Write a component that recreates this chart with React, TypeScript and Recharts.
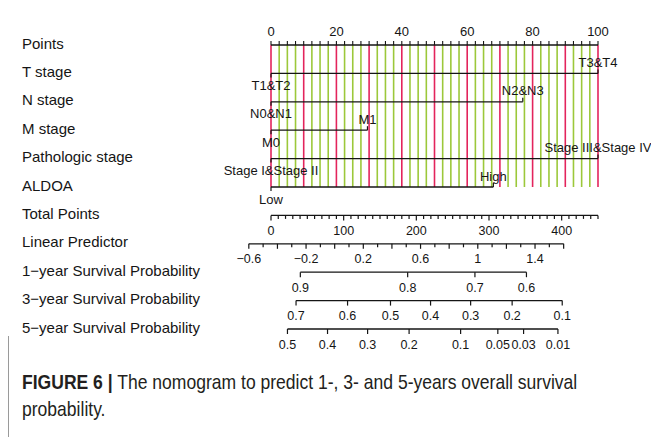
import React from 'react';
import { ComposedChart, XAxis, YAxis, Scatter, ReferenceLine, ReferenceDot } from 'recharts';

const FONT = '"Liberation Sans", Arial, Helvetica, sans-serif';
const INK = '#151515';
const RED = '#E3245C';
const GREEN = '#9CC83A';

// Row titles, top to bottom
const ROW_NAMES = [
  'Points',
  'T stage',
  'N stage',
  'M stage',
  'Pathologic stage',
  'ALDOA',
  'Total Points',
  'Linear Predictor',
  '1\u2212year Survival Probability',
  '3\u2212year Survival Probability',
  '5\u2212year Survival Probability',
];

// Covariate levels and the points each level contributes
const T_STAGE_LEVELS = ['T1&T2', 'T3&T4'];
const T_STAGE_POINTS = [0, 100];
const N_STAGE_LEVELS = ['N0&N1', 'N2&N3'];
const N_STAGE_POINTS = [0, 77];
const M_STAGE_LEVELS = ['M0', 'M1'];
const M_STAGE_POINTS = [0, 29.5];
const PATH_STAGE_LEVELS = ['Stage I&Stage II', 'Stage III&Stage IV'];
const PATH_STAGE_POINTS = [0, 100];
const ALDOA_LEVELS = ['Low', 'High'];
const ALDOA_POINTS = [0, 68];

// Axis scales
const POINTS_LABELS = [0, 20, 40, 60, 80, 100];
const TOTAL_POINTS_LABELS = [0, 100, 200, 300, 400];
const TOTAL_POINTS_MAX = 450;
const LP_LABELS = [-0.6, -0.2, 0.2, 0.6, 1, 1.4];
const LP_RANGE = [-0.6, 1.6];
// Linear predictor values lined up with 0 and 450 total points
const LP_AT_TOTAL_ENDS: [number, number] = [-0.445, 1.84];

// Survival probabilities and the linear predictor value where each sits
const SURV1_LABELS = ['0.9', '0.8', '0.7', '0.6'];
const SURV1_LP = [-0.24, 0.51, 0.98, 1.34];
const SURV3_LABELS = ['0.7', '0.6', '0.5', '0.4', '0.3', '0.2', '0.1'];
const SURV3_LP = [-0.27, 0.09, 0.39, 0.67, 0.95, 1.24, 1.59];
const SURV5_LABELS = ['0.5', '0.4', '0.3', '0.2', '0.1', '0.05', '0.03', '0.01'];
const SURV5_LP = [-0.33, -0.05, 0.23, 0.52, 0.88, 1.14, 1.32, 1.56];

const ROW_TICKS = ROW_NAMES.map((_, i) => i);
const LAST_COVARIATE_ROW = 5;
const TOTAL_ROW = 6;
const LP_ROW = 7;

const COVARIATES = [
  { row: 1, levels: T_STAGE_LEVELS, points: T_STAGE_POINTS },
  { row: 2, levels: N_STAGE_LEVELS, points: N_STAGE_POINTS },
  { row: 3, levels: M_STAGE_LEVELS, points: M_STAGE_POINTS },
  { row: 4, levels: PATH_STAGE_LEVELS, points: PATH_STAGE_POINTS },
  { row: 5, levels: ALDOA_LEVELS, points: ALDOA_POINTS },
];

const LEVEL_MARKS = COVARIATES.flatMap((c) =>
  c.levels.map((label, i) => ({
    x: c.points[i],
    row: c.row,
    label,
    side: i === 0 ? 'below' : 'above',
  }))
);

const SURVIVAL_ROWS = [
  { row: 8, labels: SURV1_LABELS, lp: SURV1_LP },
  { row: 9, labels: SURV3_LABELS, lp: SURV3_LP },
  { row: 10, labels: SURV5_LABELS, lp: SURV5_LP },
];

const SURVIVAL_MARKS = SURVIVAL_ROWS.flatMap((s) =>
  s.labels.map((label, i) => ({ x: s.lp[i], row: s.row, label, major: true }))
);

// Points axis ticks and guide lines every 2.5 points
const POINT_TICKS: number[] = [];
for (let i = 0; i <= 40; i++) POINT_TICKS.push(i * 2.5);

// Total points ticks every 10
const TOTAL_MARKS: { x: number; row: number; label?: string; major: boolean }[] = [];
for (let v = 0; v <= TOTAL_POINTS_MAX; v += 10) {
  const labelled = TOTAL_POINTS_LABELS.includes(v);
  TOTAL_MARKS.push({ x: v, row: TOTAL_ROW, label: labelled ? String(v) : undefined, major: labelled });
}

const fmt = (v: number) => {
  const s = String(Math.round(v * 100) / 100);
  return s.startsWith('-') ? '\u2212' + s.slice(1) : s;
};

// Linear predictor ticks every 0.1, longer every 0.2
const LP_MARKS: { x: number; label?: string; major: boolean }[] = [];
{
  const start = Math.round(LP_RANGE[0] * 10);
  const end = Math.round(LP_RANGE[1] * 10);
  for (let i = start; i <= end; i++) {
    const v = i / 10;
    const labelled = LP_LABELS.some((l) => Math.abs(l - v) < 1e-9);
    LP_MARKS.push({ x: v, label: labelled ? fmt(v) : undefined, major: (i - start) % 2 === 0 });
  }
}

const LevelMark = (props: any) => {
  const { cx, cy, payload } = props;
  const up = payload.side === 'above';
  return (
    <g>
      <line x1={cx} y1={cy} x2={cx} y2={up ? cy - 4 : cy + 4} stroke={INK} strokeWidth={1.2} />
      <text
        x={cx}
        y={up ? cy - 11 : cy + 12}
        textAnchor="middle"
        dominantBaseline="central"
        fontSize={13}
        fontFamily={FONT}
        fill={INK}
      >
        {payload.label}
      </text>
    </g>
  );
};

const drawScaleMark = (cx: number, cy: number, major: boolean, label?: string) => (
  <g>
    <line x1={cx} y1={cy} x2={cx} y2={cy + (major ? 5 : 3.5)} stroke={INK} strokeWidth={1.2} />
    {label !== undefined && (
      <text
        x={cx}
        y={cy + 15.5}
        textAnchor="middle"
        dominantBaseline="central"
        fontSize={12.5}
        fontFamily={FONT}
        fill={INK}
      >
        {label}
      </text>
    )}
  </g>
);

const ScaleMark = (props: any) => {
  const { cx, cy, payload } = props;
  return drawScaleMark(cx, cy, payload.major, payload.label);
};

const RowLabel = (props: any) => {
  const { y, payload } = props;
  return (
    <text x={22} y={y - 2} dominantBaseline="central" fontSize={15} fontFamily={FONT} fill={INK}>
      {ROW_NAMES[payload.value]}
    </text>
  );
};

export default function App() {
  return (
    <div
      style={{
        position: 'absolute',
        left: 0,
        top: 0,
        width: 651,
        height: 437,
        background: '#fff',
        overflow: 'hidden',
      }}
    >
      <ComposedChart width={651} height={360} margin={{ top: 15, right: 53, bottom: 31, left: 0 }}>
        <XAxis
          xAxisId="points"
          dataKey="x"
          type="number"
          orientation="top"
          domain={[0, 100]}
          ticks={POINT_TICKS}
          interval={0}
          tickFormatter={(v: number) => (POINTS_LABELS.includes(v) ? String(v) : '')}
          tickSize={4}
          tickMargin={5}
          height={30}
          axisLine={{ stroke: INK, strokeWidth: 1.3 }}
          tickLine={{ stroke: INK, strokeWidth: 1.1 }}
          tick={{ fill: INK, fontSize: 13, fontFamily: FONT }}
        />
        <XAxis xAxisId="total" dataKey="x" type="number" domain={[0, TOTAL_POINTS_MAX]} hide />
        <XAxis xAxisId="lp" dataKey="x" type="number" domain={LP_AT_TOTAL_ENDS} hide />
        <YAxis
          yAxisId="rows"
          dataKey="row"
          type="number"
          domain={[0, ROW_NAMES.length - 1]}
          reversed
          ticks={ROW_TICKS}
          interval={0}
          width={271}
          axisLine={false}
          tickLine={false}
          tick={RowLabel}
        />

        {POINT_TICKS.map((v) => (
          <ReferenceLine
            key={'grid-' + v}
            xAxisId="points"
            yAxisId="rows"
            segment={[{ x: v, y: 0 }, { x: v, y: LAST_COVARIATE_ROW }]}
            stroke={v % 10 === 0 ? RED : GREEN}
            strokeWidth={1.6}
          />
        ))}

        {COVARIATES.map((c) => (
          <ReferenceLine
            key={'cov-' + c.row}
            xAxisId="points"
            yAxisId="rows"
            segment={[
              { x: Math.min(...c.points), y: c.row },
              { x: Math.max(...c.points), y: c.row },
            ]}
            stroke={INK}
            strokeWidth={1.3}
          />
        ))}

        <ReferenceLine
          xAxisId="total"
          yAxisId="rows"
          segment={[{ x: 0, y: TOTAL_ROW }, { x: TOTAL_POINTS_MAX, y: TOTAL_ROW }]}
          stroke={INK}
          strokeWidth={1.3}
        />
        <ReferenceLine
          xAxisId="lp"
          yAxisId="rows"
          segment={[{ x: LP_RANGE[0], y: LP_ROW }, { x: LP_RANGE[1], y: LP_ROW }]}
          stroke={INK}
          strokeWidth={1.3}
          ifOverflow="visible"
        />
        {SURVIVAL_ROWS.map((s) => (
          <ReferenceLine
            key={'surv-' + s.row}
            xAxisId="lp"
            yAxisId="rows"
            segment={[{ x: s.lp[0], y: s.row }, { x: s.lp[s.lp.length - 1], y: s.row }]}
            stroke={INK}
            strokeWidth={1.3}
          />
        ))}

        {LP_MARKS.map((m, i) => (
          <ReferenceDot
            key={'lp-' + i}
            xAxisId="lp"
            yAxisId="rows"
            x={m.x}
            y={LP_ROW}
            ifOverflow="visible"
            shape={(p: any) => drawScaleMark(p.cx, p.cy, m.major, m.label)}
          />
        ))}

        <Scatter data={TOTAL_MARKS} xAxisId="total" yAxisId="rows" shape={ScaleMark} isAnimationActive={false} />
        <Scatter data={SURVIVAL_MARKS} xAxisId="lp" yAxisId="rows" shape={ScaleMark} isAnimationActive={false} />
        <Scatter data={LEVEL_MARKS} xAxisId="points" yAxisId="rows" shape={LevelMark} isAnimationActive={false} />
      </ComposedChart>

      <div
        style={{
          position: 'absolute',
          left: 8,
          top: 336,
          width: 1,
          height: 101,
          background: '#9a9a9a',
        }}
      />
      <div
        style={{
          position: 'absolute',
          left: 22,
          top: 368,
          fontFamily: FONT,
          fontSize: 21,
          lineHeight: '27px',
          color: '#231f20',
          whiteSpace: 'nowrap',
          transform: 'scaleX(0.835)',
          transformOrigin: 'left top',
        }}
      >
        <b>FIGURE 6</b> <b>|</b> The nomogram to predict 1-, 3- and 5-years overall survival
        <br />
        probability.
      </div>
    </div>
  );
}
